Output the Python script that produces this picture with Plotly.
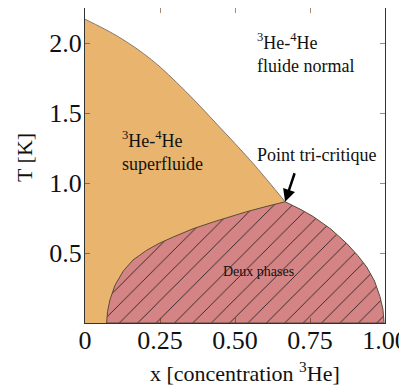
"""Phase diagram of 3He-4He mixtures (lambda line and phase separation)"""

import plotly.graph_objects as go

# lambda line: superfluid transition temperature vs 3He concentration
lambda_x = [0.0, 0.111, 0.222, 0.333, 0.444, 0.556, 0.667]
lambda_T = [2.17, 2.045, 1.88, 1.66, 1.41, 1.15, 0.866]

# phase separation boundary (left branch up to tricritical point, then right branch down)
sep_x = [0.072, 0.075, 0.083, 0.1, 0.128, 0.16, 0.206, 0.25, 0.294, 0.36, 0.428, 0.48, 0.539, 0.6, 0.667,
         0.72, 0.761, 0.82, 0.872, 0.91, 0.939, 0.965, 0.983, 0.993, 0.997]
sep_T = [0.0, 0.08, 0.164, 0.27, 0.372, 0.45, 0.52, 0.572, 0.614, 0.673, 0.722, 0.758, 0.795, 0.83, 0.866,
         0.81, 0.76, 0.67, 0.569, 0.48, 0.40, 0.30, 0.19, 0.10, 0.0]

tricritical = (0.667, 0.866)

x_ticks = [0, 0.25, 0.5, 0.75, 1.0]
x_ticktext = ["0", "0.25", "0.50", "0.75", "1.00"]
y_ticks = [0.5, 1.0, 1.5, 2.0]
y_ticktext = ["0.5", "1.0", "1.5", "2.0"]

ORANGE = "#E8B46E"
RED = "#D48484"
FONT = "Liberation Serif"

fig = go.Figure()

# superfluid region (orange) below the lambda line
fig.add_trace(go.Scatter(
    x=lambda_x,
    y=lambda_T,
    mode="lines",
    fill="tozeroy",
    fillcolor=ORANGE,
    line=dict(color="#8a7a6a", width=1, shape="spline", smoothing=1.0),
    hoverinfo="skip",
    showlegend=False,
))

# two-phase region (red, hatched)
fig.add_trace(go.Scatter(
    x=sep_x + [sep_x[0]],
    y=sep_T + [sep_T[0]],
    mode="lines",
    fill="toself",
    fillcolor=RED,
    fillpattern=dict(shape="/", size=13, solidity=0.06, fgcolor="#111111",
                     bgcolor=RED, fillmode="replace"),
    line=dict(color="#5a4a3a", width=1),
    hoverinfo="skip",
    showlegend=False,
))

txt = dict(family=FONT, size=18, color="#111111")
fig.add_annotation(x=0.117, y=1.23, xanchor="left", yanchor="middle", align="left",
                   text="<sup>3</sup>He-<sup>4</sup>He<br>superfluide", showarrow=False, font=txt)
fig.add_annotation(x=0.567, y=1.93, xanchor="left", yanchor="middle", align="left",
                   text="<sup>3</sup>He-<sup>4</sup>He<br>fluide normal", showarrow=False, font=txt)
fig.add_annotation(x=0.567, y=1.2, xanchor="left", yanchor="middle", align="left",
                   text="Point tri-critique", showarrow=False, font=txt)
fig.add_annotation(x=0.577, y=0.37, text="Deux phases", showarrow=False,
                   font=dict(family=FONT, size=14, color="#111111"))
fig.add_annotation(x=tricritical[0], y=tricritical[1], text="", showarrow=True,
                   arrowhead=2, arrowsize=1, arrowwidth=2.5, arrowcolor="#000000",
                   ax=10, ay=-30)

# axis titles placed as paper annotations
fig.add_annotation(xref="paper", yref="paper", x=0.533, y=-0.156, xanchor="center", yanchor="middle",
                   text="x [concentration <sup>3</sup>He]", showarrow=False,
                   font=dict(family=FONT, size=22, color="#111111"))
fig.add_annotation(xref="paper", yref="paper", x=-0.2, y=0.524, xanchor="center", yanchor="middle",
                   text="T [K]", textangle=-90, showarrow=False,
                   font=dict(family=FONT, size=22, color="#111111"))

axis_common = dict(
    showline=True, linecolor="#333333", linewidth=1, mirror="allticks",
    ticks="inside", ticklen=5, tickcolor="rgba(90,40,10,0.55)",
    showgrid=False, zeroline=False, automargin=False, ticklabeloverflow="allow",
    tickfont=dict(family=FONT, size=26, color="#111111"),
)

fig.update_xaxes(range=[0, 1.0], tickvals=x_ticks, ticktext=x_ticktext,
                 ticklabelstandoff=-6, **axis_common)
fig.update_yaxes(range=[0, 2.25], tickvals=y_ticks, ticktext=y_ticktext,
                 ticklabelstandoff=-3, **axis_common)

# page body has an 8px margin, so the figure is offset by 8px inside the window
fig.update_layout(
    width=399, height=377,
    margin=dict(l=77, r=22, t=0, b=62),
    paper_bgcolor="white",
    plot_bgcolor="white",
    showlegend=False,
)

fig.write_html("out.html")
